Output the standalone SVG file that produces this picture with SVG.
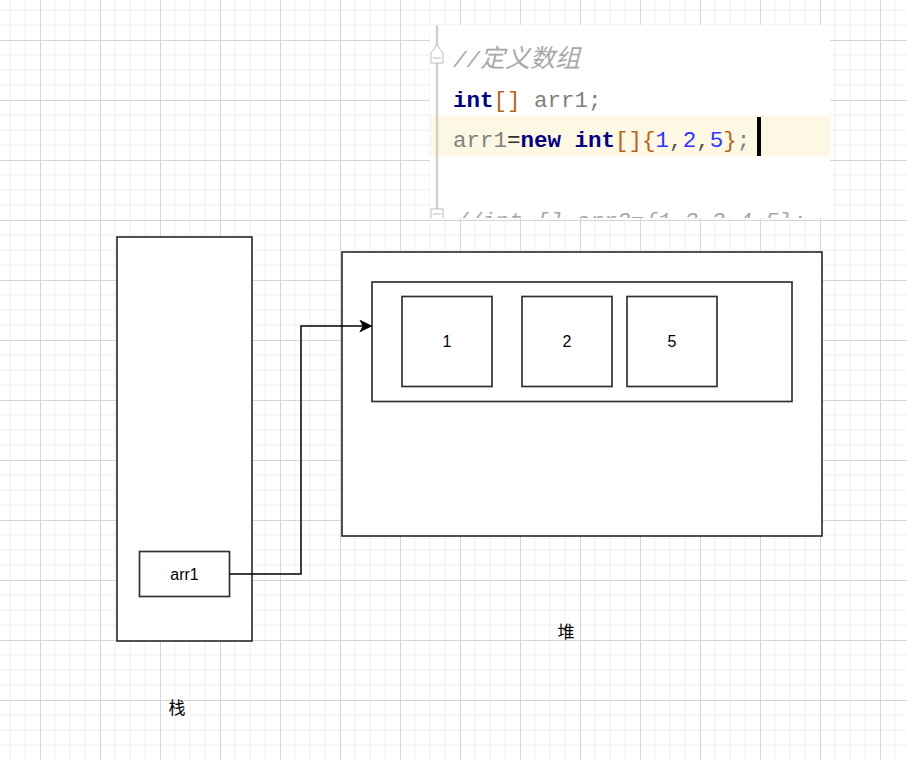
<svg xmlns="http://www.w3.org/2000/svg" width="907" height="760" viewBox="0 0 907 760">
  <defs>
    <pattern id="grid" x="40" y="40" width="60" height="60" patternUnits="userSpaceOnUse">
      <path d="M15 0V60M30 0V60M45 0V60M0 15H60M0 30H60M0 45H60" stroke="#efefef" stroke-width="1" fill="none"/>
      <path d="M0.5 0V60M0 0.5H60" stroke="#d6d6d6" stroke-width="1" fill="none"/>
    </pattern>
    <marker id="arrow" viewBox="0 0 10 10" refX="9" refY="5" markerWidth="13" markerHeight="13" markerUnits="userSpaceOnUse" orient="auto">
      <path d="M0 0L10 5L0 10L2.5 5Z" fill="#000"/>
    </marker>
    <clipPath id="codeclip">
      <rect x="430" y="25" width="400" height="193"/>
    </clipPath>
    <style>
      .box { fill: #fff; stroke: #333; stroke-width: 1.7; }
      .lbl { font-family: "Liberation Sans", Arial, sans-serif; font-size: 16px; fill: #000; text-anchor: middle; }
      .cjk { font-family: "Noto Sans CJK SC", "Liberation Sans", sans-serif; font-size: 17px; fill: #000; text-anchor: middle; }
      .code { font-family: "Liberation Mono", "Courier New", monospace; font-size: 22.5px; }
      .kw { fill: #000080; font-weight: bold; }
      .br { fill: #b5651d; }
      .id { fill: #808080; }
      .num { fill: #3333ff; }
      .cm { fill: #a8a8a8; font-style: italic; }
    </style>
  </defs>

  <rect width="907" height="760" fill="#fff"/>
  <rect width="907" height="760" fill="url(#grid)"/>

  <!-- code screenshot -->
  <g id="code">
    <rect x="430" y="25" width="400" height="193" fill="#fff"/>
    <rect x="430" y="116" width="400" height="40" fill="#fdf8e4"/>
    <g clip-path="url(#codeclip)">
      <line x1="437" y1="25" x2="437" y2="218" stroke="#d0d0d0" stroke-width="2.5"/>
      <path d="M431 53L437 45L443 53V63H431Z" fill="#fff" stroke="#bdbdbd" stroke-width="1"/>
      <line x1="433" y1="58" x2="441" y2="58" stroke="#bdbdbd" stroke-width="1"/>
      <rect x="431" y="209" width="12" height="12" fill="#fff" stroke="#bdbdbd" stroke-width="1"/>
      <line x1="433" y1="214" x2="441" y2="214" stroke="#bdbdbd" stroke-width="1"/>
      <text x="453" y="67" class="code cm">//<tspan font-family="'Noto Sans CJK SC', sans-serif" font-size="25px">定义数组</tspan></text>
      <text x="453" y="107" class="code"><tspan class="kw">int</tspan><tspan class="br">[]</tspan><tspan class="id"> arr1;</tspan></text>
      <text x="453" y="147" class="code"><tspan class="id">arr1</tspan><tspan fill="#333">=</tspan><tspan class="kw">new</tspan><tspan> </tspan><tspan class="kw">int</tspan><tspan class="br">[]{</tspan><tspan class="num">1</tspan><tspan fill="#555">,</tspan><tspan class="num">2</tspan><tspan fill="#555">,</tspan><tspan class="num">5</tspan><tspan class="br">}</tspan><tspan class="id">;</tspan></text>
      <text x="455" y="228" class="code cm">//int [] arr2={1,2,3,4,5};</text>
    </g>
    <rect x="757" y="117" width="4" height="39" fill="#000"/>
  </g>

  <!-- stack -->
  <g id="stack">
    <rect x="117" y="237" width="135" height="404" class="box"/>
  </g>
  <g id="arr1">
    <rect x="139.5" y="551.5" width="90" height="45" class="box"/>
    <text x="184.5" y="580" class="lbl">arr1</text>
  </g>
  <g id="stack-label">
    <text x="177" y="714" class="cjk">栈</text>
  </g>

  <!-- heap -->
  <g id="heap">
    <rect x="342" y="252" width="480" height="284" class="box"/>
  </g>
  <g id="array">
    <rect x="372" y="282" width="420" height="119.5" class="box"/>
  </g>
  <g id="e1">
    <rect x="402" y="296.5" width="90" height="90" class="box"/>
    <text x="447" y="347" class="lbl">1</text>
  </g>
  <g id="e2">
    <rect x="522" y="296.5" width="90" height="90" class="box"/>
    <text x="567" y="347" class="lbl">2</text>
  </g>
  <g id="e5">
    <rect x="627" y="296.5" width="90" height="90" class="box"/>
    <text x="672" y="347" class="lbl">5</text>
  </g>
  <g id="heap-label">
    <text x="566" y="638" class="cjk">堆</text>
  </g>

  <!-- connectors -->
  <g id="connectors">
    <path d="M229.5 574H301V326H371" fill="none" stroke="#000" stroke-width="1.5" marker-end="url(#arrow)"/>
  </g>
</svg>
